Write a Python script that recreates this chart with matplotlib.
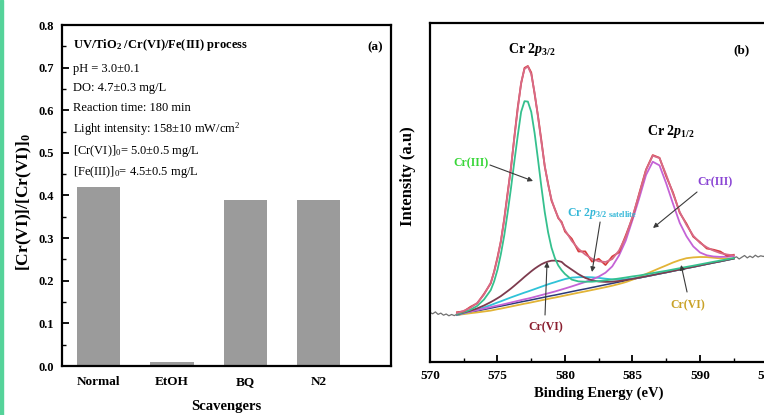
import matplotlib
matplotlib.use("Agg")
import matplotlib.pyplot as plt
import numpy as np
from matplotlib.patches import Rectangle
from matplotlib.ticker import MultipleLocator

plt.rcParams['font.family'] = ['Liberation Serif', 'DejaVu Serif']
plt.rcParams['mathtext.fontset'] = 'custom'
plt.rcParams['mathtext.rm'] = 'Liberation Serif'
plt.rcParams['mathtext.it'] = 'Liberation Serif:italic:bold'
plt.rcParams['mathtext.bf'] = 'Liberation Serif:bold'

# ---------------- panel (a) data ----------------
scavengers = ["Normal", "EtOH", "BQ", "N2"]
ratio = [0.42, 0.01, 0.39, 0.39]

# ---------------- panel (b) data ----------------
energy = [572.0, 572.5, 573.0, 573.5, 574.0,
          574.5, 574.75, 575.0, 575.25, 575.5, 575.75, 576.0, 576.25, 576.5, 576.75,
          577.0, 577.25, 577.5, 577.75, 578.0, 578.25, 578.5, 578.75, 579.0, 579.25,
          579.5, 579.75, 580.0,
          580.5, 581.0, 581.5, 582.0, 582.5, 583.0, 583.5, 584.0, 584.5, 585.0, 585.5,
          586.0, 586.5, 587.0, 587.5, 588.0, 588.5, 589.0, 589.5, 590.0, 590.5, 591.0,
          591.5, 592.0, 592.5]
background = [47.0, 48.4, 49.8, 51.1, 52.5,
              53.9, 54.6, 55.3, 55.9, 56.6, 57.3, 58.0, 58.7, 59.4, 60.1, 60.8, 61.4,
              62.1, 62.8, 63.5, 64.2, 64.9, 65.6, 66.3, 66.9, 67.6, 68.3, 69.0,
              70.4, 71.8, 73.1, 74.5, 75.9, 77.3, 78.6, 80.0, 81.4, 82.8, 84.1, 85.5,
              86.9, 88.3, 89.6, 91.0, 92.4, 93.8, 95.1, 96.5, 97.9, 99.3, 100.6, 102.0, 103.4]
cr3_p32 = [1.0, 1.4, 2.5, 5.0, 10.0,
           18.0, 26.0, 37.0, 52.0, 70.0, 92.0, 116.0, 142.0, 167.0, 190.0, 200.0, 199.0,
           188.0, 166.0, 139.0, 111.0, 85.0, 64.0, 48.0, 37.0, 29.0, 23.5, 19.0,
           12.0, 8.8, 7.2, 5.8, 5.0, 4.4, 3.9, 3.5, 3.1, 2.8, 2.4, 2.2, 2.0, 1.8, 1.6,
           1.5, 1.4, 1.3, 1.2, 1.1, 1.0, 0.9, 0.8, 0.7, 0.6]
cr6_p32 = [0.5, 1.0, 1.5, 2.5, 4.0,
           6.0, 7.2, 8.5, 10.0, 11.8, 13.6, 15.5, 17.6, 19.8, 22.0, 24.3, 26.5, 28.6,
           30.5, 32.1, 33.5, 34.4, 34.9, 35.0, 34.5, 33.4, 31.8, 28.0,
           22.0, 16.0, 11.0, 7.2, 4.6, 2.8, 1.7, 1.0, 0.6, 0.3, 0.2, 0.1, 0.0, 0.0, 0.0,
           0.0, 0.0, 0.0, 0.0, 0.0, 0.0, 0.0, 0.0, 0.0, 0.0]
satellite = [0.0, 0.3, 0.7, 1.2, 2.0,
             3.0, 3.6, 4.2, 4.8, 5.4, 6.0, 6.6, 7.1, 7.6, 8.1, 8.6, 9.1, 9.6, 10.1,
             10.6, 11.1, 11.6, 12.1, 12.5, 12.9, 13.3, 13.6, 13.9,
             14.0, 13.0, 11.8, 10.2, 8.2, 6.0, 4.0, 2.5, 1.4, 0.7, 0.3, 0.1, 0.0, 0.0,
             0.0, 0.0, 0.0, 0.0, 0.0, 0.0, 0.0, 0.0, 0.0, 0.0, 0.0]
cr3_p12 = [0.5, 0.6, 0.7, 0.8, 0.9,
           1.0, 1.1, 1.1, 1.2, 1.3, 1.4, 1.5, 1.6, 1.7, 1.8, 1.9, 2.0, 2.1, 2.3, 2.5,
           2.7, 2.9, 3.1, 3.3, 3.6, 3.9, 4.2, 4.5,
           5.2, 6.0, 6.9, 8.0, 9.5, 12.0, 17.0, 26.5, 40.0, 59.3, 79.8, 101.5, 113.4,
           108.3, 88.9, 67.3, 46.7, 31.9, 20.5, 13.0, 8.8, 6.2, 4.5, 3.3, 2.5]
cr6_p12 = [0.0, -0.5, -1.0, -1.5, -2.0,
           -2.5, -2.5, -2.5, -2.5, -2.5, -2.5, -2.5, -2.5, -2.5, -2.5, -2.5, -2.5,
           -2.5, -2.5, -2.5, -2.5, -2.5, -2.5, -2.5, -2.5, -2.5, -2.5, -2.5,
           -2.5, -2.5, -2.5, -2.5, -2.5, -2.5, -2.3, -2.0, -1.5, -0.5, 1.0, 2.5, 4.0,
           5.5, 7.0, 8.5, 9.5, 10.0, 9.5, 8.5, 7.0, 5.0, 3.0, 1.5, 0.0]
residual = [0.8, -0.6, 1.0, -0.4, 0.7, -0.8, 0.5, 1.2, -0.9, 0.6, 1.5, -1.0, 0.8,
            1.8, -1.2, 1.0, 0.5, 1.6, -1.4, 0.9, 1.7, -0.8, 1.1, -1.3, 0.6, -0.9,
            1.2, -1.5, 2.2, -2.6, 3.1, -2.8, 2.5, -3.0, 2.7, -1.9, 1.6, -1.2, 0.9,
            0.4, 0.6, 0.3, -1.6, 1.2, -0.9, 1.3, -1.0, 0.8, -1.2, 0.9, 1.6, -1.3, 0.7]
raw_left_E = [570.0, 570.2, 570.4, 570.6, 570.8, 571.0, 571.2, 571.4, 571.6, 571.8, 572.0]
raw_left_I = [49.5, 48.2, 50.1, 47.6, 48.9, 46.8, 48.0, 46.2, 47.5, 46.4, 47.8]
raw_right_E = [592.5, 592.7, 592.9, 593.1, 593.3, 593.5, 593.7, 593.9, 594.1, 594.3,
               594.5, 594.7, 594.9]
raw_right_I = [104.1, 105.2, 103.0, 104.8, 106.5, 104.1, 105.9, 104.4, 106.8, 105.0,
               106.2, 105.5, 107.0]

W, H = 764, 415
fig = plt.figure(figsize=(W / 100, H / 100), dpi=100)
fig.patches.append(Rectangle((0, 0), 3 / W, 1, transform=fig.transFigure,
                             color="#55d39a", zorder=0))

# ---------------- panel (a) ----------------
axa = fig.add_axes([62 / W, 1 - 366 / H, (391 - 62) / W, (366 - 25) / H])
xpos = np.arange(len(scavengers))
axa.bar(xpos, ratio, width=0.59, color="#9b9b9b", edgecolor="none")
axa.set_xlim(-0.5, 3.99)
axa.set_ylim(0, 0.8)
axa.set_xticks(xpos)
axa.set_xticklabels(scavengers, fontsize=9.5, fontweight='bold')
axa.yaxis.set_major_locator(MultipleLocator(0.1))
axa.yaxis.set_minor_locator(MultipleLocator(0.05))
axa.set_yticklabels([f"{v:.1f}" for v in axa.get_yticks()], fontsize=9, fontweight='bold')
axa.tick_params(axis='y', which='major', direction='in', length=5, width=1.3, pad=6, right=False)
axa.tick_params(axis='y', which='minor', direction='in', length=3, width=1.0, right=False)
axa.tick_params(axis='x', length=0, pad=7)
for s in axa.spines.values():
    s.set_linewidth(1.6)
axa.set_xlabel("Scavengers", fontsize=10.5, fontweight='bold', labelpad=9)
axa.set_ylabel(r"[Cr(VI)]/[Cr(VI)]$_\mathbf{0}$", fontsize=12.5, fontweight='bold')
axa.yaxis.set_label_coords(-(62 - 34) / 329, 0.48)

info = [
    (r"UV/TiO$_\mathbf{2}$ /Cr(VI)/Fe(III) process", 'bold', 0.941),
    (r"pH = 3.0±0.1", 'normal', 0.871),
    (r"DO: 4.7±0.3 mg/L", 'normal', 0.815),
    (r"Reaction time: 180 min", 'normal', 0.757),
    (r"Light intensity: 158±10 mW/cm$^2$", 'normal', 0.695),
    (r"[Cr(VI)]$_0$= 5.0±0.5 mg/L", 'normal', 0.630),
    (r"[Fe(III)]$_0$= 4.5±0.5 mg/L", 'normal', 0.569),
]
for txt, wt, yy in info:
    axa.text(0.033, yy, txt, transform=axa.transAxes, fontsize=9, fontweight=wt,
             ha='left', va='center')
axa.text(0.951, 0.935, "(a)", transform=axa.transAxes, fontsize=9.5, fontweight='bold',
         ha='center', va='center')

# ---------------- panel (b) ----------------
E = np.array(energy)
bg = np.array(background)
comps = [np.array(c) for c in (cr3_p32, cr6_p32, satellite, cr3_p12, cr6_p12)]
envelope = bg + sum(comps)
measured = envelope + np.array(residual)

axb = fig.add_axes([430 / W, 1 - 362 / H, 337.5 / W, (362 - 23) / H])
axb.plot(raw_left_E, raw_left_I, color="#707070", lw=0.9)
axb.plot(raw_right_E, raw_right_I, color="#707070", lw=0.9)
axb.plot(E, bg, color="#2b3a78", lw=1.1)
axb.plot(E, bg + comps[4], color="#e2b437", lw=1.3)
axb.plot(E, bg + comps[2], color="#2fc3d8", lw=1.3)
axb.plot(E, bg + comps[3], color="#c463d6", lw=1.3)
axb.plot(E, bg + comps[1], color="#7d3b4e", lw=1.3)
axb.plot(E, bg + comps[0], color="#35c08e", lw=1.3)
axb.plot(E, measured, color="#d63d3d", lw=1.3)
axb.plot(E, envelope, color="#d86a86", lw=1.3)

axb.set_xlim(570, 595)
axb.set_ylim(0, 339)
axb.set_yticks([])
axb.xaxis.set_major_locator(MultipleLocator(5))
axb.xaxis.set_minor_locator(MultipleLocator(2.5))
axb.tick_params(axis='x', which='major', direction='in', length=5, width=1.3, pad=6,
                labelsize=9.5, top=False)
axb.tick_params(axis='x', which='minor', direction='in', length=3, width=1.0, top=False)
for lab in axb.get_xticklabels():
    lab.set_fontweight('bold')
for s in axb.spines.values():
    s.set_linewidth(1.6)
axb.set_xlabel("Binding Energy (eV)", fontsize=10.5, fontweight='bold', labelpad=3)
axb.set_ylabel("Intensity (a.u)", fontsize=12, fontweight='bold')
axb.yaxis.set_label_coords(-14 / 337.5, (362 - 176) / 339)

axb.text(575.78, 312, r"Cr 2$p_{\mathbf{3/2}}$", fontsize=10, fontweight='bold',
         ha='left', va='center')
axb.text(586.07, 230, r"Cr 2$p_{\mathbf{1/2}}$", fontsize=10, fontweight='bold',
         ha='left', va='center')
axb.text(593.1, 312, "(b)", fontsize=9.5, fontweight='bold', ha='center', va='center')

arrow_kw = dict(arrowstyle='-|>', color='#3a3a3a', lw=0.8, mutation_scale=7,
                shrinkA=0, shrinkB=0)
labels = [
    ("Cr(III)", "#39d639", 571.7, 199, 'left', (574.44, 197), (577.63, 181)),
    ("Cr(III)", "#8a45d4", 589.78, 180, 'left', (589.78, 170), (586.52, 134)),
    ("Cr(VI)", "#8b1f30", 578.56, 35, 'center', (578.52, 47), (578.67, 100)),
    ("Cr(VI)", "#c9a227", 589.07, 57, 'center', (589.04, 70), (588.6, 97)),
]
for txt, col, x, y, ha, start, tip in labels:
    axb.text(x, y, txt, color=col, fontsize=8.5, fontweight='bold', ha=ha, va='center')
    axb.annotate("", xy=tip, xytext=start, arrowprops=arrow_kw)
axb.text(580.15, 149, r"Cr 2$p_{\mathbf{3/2}\ \mathbf{satellite}}$", color="#35b8d8",
         fontsize=8.5, fontweight='bold', ha='left', va='center')
axb.annotate("", xy=(582.0, 90), xytext=(582.6, 140), arrowprops=arrow_kw)

fig.savefig("out.png", dpi=100)
